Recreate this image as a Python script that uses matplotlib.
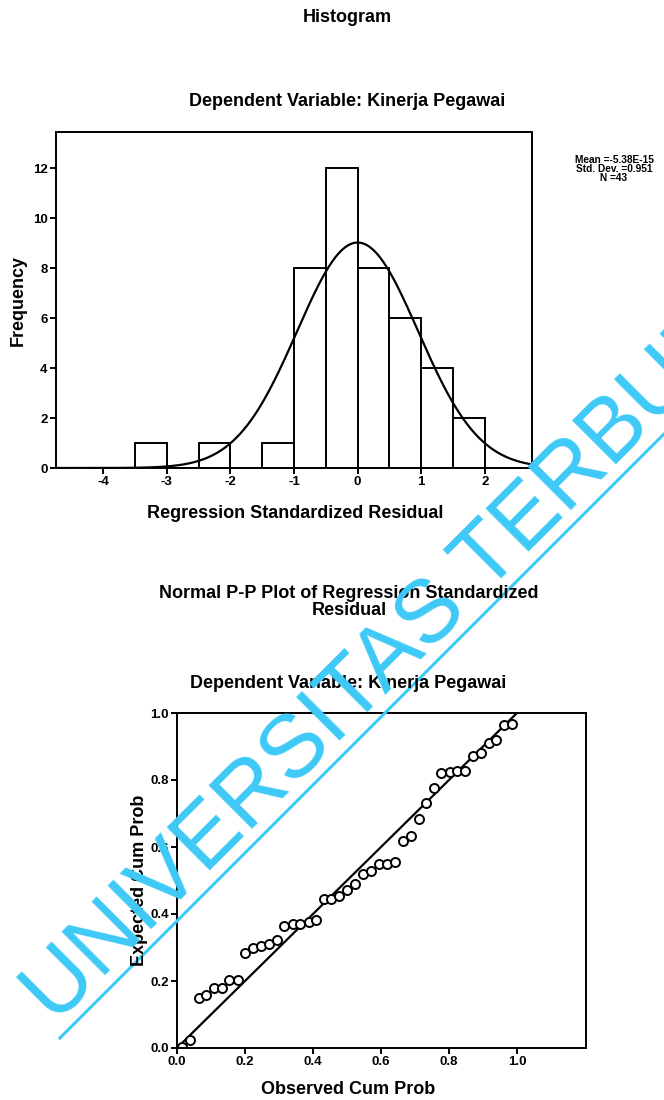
''' histograma y gráfico P-P de residuos estandarizados '''
import numpy as np
import matplotlib
matplotlib.use('Agg')
import matplotlib.pyplot as plt

plt.rcParams['font.family'] = ['Liberation Sans', 'DejaVu Sans']
plt.rcParams['font.weight'] = 'bold'
plt.rcParams['axes.unicode_minus'] = False

# histograma de residuos
bin_lefts = [-3.5, -3.0, -2.5, -2.0, -1.5, -1.0, -0.5, 0.0, 0.5, 1.0, 1.5]
counts = [1, 0, 1, 0, 1, 8, 12, 8, 6, 4, 2]
mean_res = -5.38e-15
sd_res = 0.951
n_obs = 43
hist_xticks = [-4, -3, -2, -1, 0, 1, 2]
hist_yticks = [0, 2, 4, 6, 8, 10, 12]

# gráfico P-P
observed = [0.016, 0.039, 0.064, 0.086, 0.110, 0.132, 0.154, 0.178, 0.201, 0.224,
            0.247, 0.271, 0.294, 0.316, 0.340, 0.363, 0.387, 0.410, 0.431, 0.454,
            0.477, 0.500, 0.525, 0.547, 0.571, 0.594, 0.618, 0.642, 0.665, 0.688,
            0.711, 0.733, 0.755, 0.777, 0.802, 0.825, 0.848, 0.871, 0.894, 0.917,
            0.939, 0.963, 0.986]
expected = [0.004, 0.023, 0.149, 0.159, 0.179, 0.178, 0.202, 0.204, 0.284, 0.298,
            0.305, 0.310, 0.321, 0.363, 0.370, 0.370, 0.377, 0.383, 0.445, 0.445,
            0.453, 0.473, 0.490, 0.520, 0.528, 0.548, 0.550, 0.554, 0.618, 0.632,
            0.685, 0.731, 0.775, 0.821, 0.824, 0.826, 0.828, 0.873, 0.881, 0.910,
            0.919, 0.964, 0.966]
pp_ticks = [0.0, 0.2, 0.4, 0.6, 0.8, 1.0]

W, H = 664, 1100
LW = 1.4


def fx(px):
    return px / W


def fy(py):
    return 1 - py / H


def estilo(ax):
    for s in ax.spines.values():
        s.set_linewidth(LW)
    ax.tick_params(direction='out', length=4, width=LW, pad=2)


fig = plt.figure(figsize=(W / 100, H / 100), dpi=100)

# --- histograma ---
ax1 = fig.add_axes([fx(56), fy(468), fx(532 - 56), (468 - 132) / H])
ax1.bar(bin_lefts, counts, width=0.5, align='edge', facecolor='white',
        edgecolor='black', linewidth=LW)
xs = np.linspace(-4.74, 2.74, 400)
curva = n_obs * 0.5 / (sd_res * np.sqrt(2 * np.pi)) * np.exp(-0.5 * ((xs - 0) / sd_res) ** 2)
ax1.plot(xs, curva, color='black', linewidth=1.6)
ax1.set_xlim(-4.74, 2.74)
ax1.set_ylim(0, 13.44)
ax1.set_xticks(hist_xticks)
ax1.set_yticks(hist_yticks)
ax1.tick_params(labelsize=9.5)
estilo(ax1)

fig.text(fx(347), fy(18), 'Histogram', ha='center', va='center', fontsize=13)
fig.text(fx(347), fy(101), 'Dependent Variable: Kinerja Pegawai', ha='center',
         va='center', fontsize=13)
fig.text(fx(295), fy(514), 'Regression Standardized Residual', ha='center',
         va='center', fontsize=13)
fig.text(fx(18), fy(300), 'Frequency', ha='center', va='center', fontsize=13,
         rotation=90)
fig.text(fx(614), fy(155), f'Mean =-5.38E-15\nStd. Dev. ={sd_res:.3f}\nN ={n_obs}',
         ha='center', va='top', fontsize=7.3, linespacing=0.86)

# --- P-P ---
ax2 = fig.add_axes([fx(177), fy(1048), fx(586 - 177), (1048 - 713) / H])
ax2.plot([0, 1], [0, 1], color='black', linewidth=1.6)
ax2.plot(observed, expected, linestyle='none', marker='o', markersize=6.5,
         markerfacecolor='white', markeredgecolor='black', markeredgewidth=1.4)
ax2.set_xlim(0, 1.203)
ax2.set_ylim(0, 1.0)
ax2.set_xticks(pp_ticks)
ax2.set_yticks(pp_ticks)
ax2.set_xticklabels([f'{t:.1f}' for t in pp_ticks])
ax2.set_yticklabels([f'{t:.1f}' for t in pp_ticks])
ax2.tick_params(labelsize=9.5)
estilo(ax2)

fig.text(fx(349), fy(602), 'Normal P-P Plot of Regression Standardized\nResidual',
         ha='center', va='center', fontsize=13, linespacing=1.05)
fig.text(fx(348), fy(683), 'Dependent Variable: Kinerja Pegawai', ha='center',
         va='center', fontsize=13)
fig.text(fx(348), fy(1090), 'Observed Cum Prob', ha='center', va='center', fontsize=13)
fig.text(fx(140), fy(880), 'Expected Cum Prob', ha='center', va='center',
         fontsize=13, rotation=90)

# marca de agua
azul = '#3ec9f7'
fig.text(fx(55), fy(1025), 'UNIVERSITAS TERBUKA', color=azul, fontsize=64,
         fontweight='normal', rotation=45, rotation_mode='anchor',
         ha='left', va='baseline')
fig.add_artist(plt.Line2D([fx(60), fx(664)], [fy(1038), fy(434)], color=azul,
                          linewidth=2.2, transform=fig.transFigure))

fig.savefig('out.png', dpi=100)
